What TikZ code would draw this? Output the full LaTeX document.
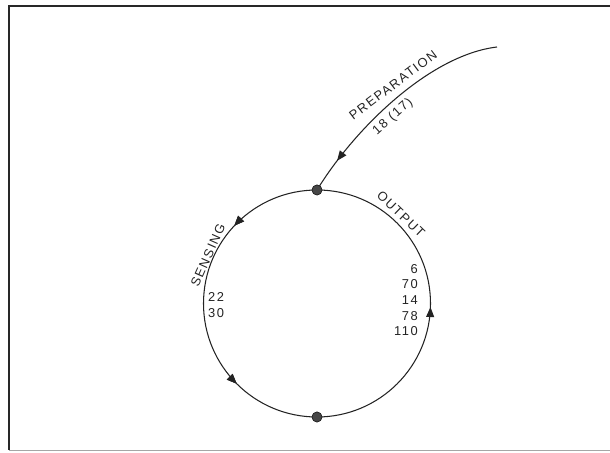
\documentclass[tikz,border=0pt]{standalone}
\usepackage{fontspec}
\setmainfont{Liberation Sans}[LetterSpace=12]
\usetikzlibrary{arrows.meta,decorations.markings}
\definecolor{CycInk}{RGB}{35,35,35}
\definecolor{CycDot}{RGB}{70,70,70}
\definecolor{CycFrame}{RGB}{40,40,40}
\newcommand{\cycrad}{3.405cm}
\tikzset{
  cyc/frame/.style={draw=CycFrame, line width=1.1pt},
  cyc/line/.style={draw=CycInk, line width=0.9pt},
  cyc/dot/.style={circle, fill=CycDot, draw=CycInk, line width=0.5pt, inner sep=0pt, minimum size=0.3cm},
  cyc/tip/.style={
    postaction={decorate},
    decoration={markings, mark=at position #1 with {\arrow{Triangle[length=3mm,width=2.4mm]}}}
  },
  cyc/label/.style={font=\fontsize{11}{13.4}\selectfont, text=CycInk, inner sep=1pt},
  cyc/nums/.style={font=\fontsize{11}{13.4}\selectfont, text=CycInk, inner sep=0pt}
}
\begin{document}
\begin{tikzpicture}[x=0.03cm,y=0.03cm]
  \useasboundingbox (0,0) rectangle (610,453);
  % frame
  \draw[cyc/frame] (610,447) -- (9,447) -- (9,3);
  \draw[draw=gray!70, line width=0.8pt] (9,3) -- (610,3);

  % cycle
  \node[cyc/dot] (top) at (317,263) {};
  \node[cyc/dot] (bottom) at (317,36) {};
  \coordinate (prepstart) at (497,406);
  \draw[cyc/line, cyc/tip=0.26, cyc/tip=0.75] (top.center) arc[start angle=90, end angle=270, radius=\cycrad];
  \draw[cyc/line, cyc/tip=0.49] (bottom.center) arc[start angle=270, end angle=450, radius=\cycrad];
  \draw[cyc/line, cyc/tip=0.85] (prepstart) .. controls (430,398) and (355,325) .. (top.center);
  \node[cyc/dot] at (top) {};
  \node[cyc/dot] at (bottom) {};

  % labels
  \node[cyc/label, rotate=37] (prep) at (393,368) {PREPARATION};
  \node[cyc/label, rotate=42] (prepnum) at (393,336) {18 (17)};
  \node[cyc/label, rotate=-44] (output) at (401,239) {OUTPUT};
  \node[cyc/label, rotate=66] (sensing) at (208,198) {SENSING};
  \node[cyc/nums, align=left, anchor=west] (sensenum) at (208,148) {22\\30};
  \node[cyc/nums, align=right, anchor=east] (outnum) at (418,153) {6\\70\\14\\78\\110};
\end{tikzpicture}
\end{document}
